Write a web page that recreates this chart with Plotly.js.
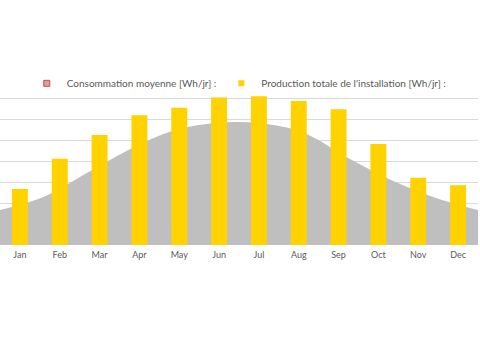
<!DOCTYPE html>
<html>
<head>
<meta charset="utf-8">
<script src="https://cdn.plot.ly/plotly-3.0.1.min.js"></script>
<style>html,body{margin:0;padding:0;background:#fff;}#chart{width:480px;height:340px;}</style>
</head>
<body>
<div id="chart"></div>
<script>
const months = ["Jan","Feb","Mar","Apr","May","Jun","Jul","Aug","Sep","Oct","Nov","Dec"];
const consommation = [1680, 2300, 3450, 4600, 5480, 5860, 5830, 5370, 4180, 3110, 2280, 1680];
const production = [2680, 4130, 5270, 6210, 6580, 7060, 7120, 6900, 6500, 4840, 3220, 2860];
const nameConso = "Consommation moyenne [Wh/jr] :";
const nameProd = "Production totale de l'installation [Wh/jr] :";

const traces = [
  {
    type: "scatter", x: months, y: consommation, xaxis: "x", yaxis: "y",
    mode: "lines", fill: "tozeroy", fillcolor: "#BFBFBF",
    line: {shape: "spline", smoothing: 1, width: 0, color: "#BFBFBF"},
    showlegend: false, hoverinfo: "skip"
  },
  {
    type: "bar", x: months, y: production, xaxis: "x2", yaxis: "y",
    name: nameProd, marker: {color: "#FFD200"}, width: 0.4, showlegend: false
  },
  {
    type: "scatter", x: [null], y: [null], xaxis: "x", yaxis: "y",
    mode: "markers", name: nameConso,
    marker: {symbol: "square", size: 6, color: "#E59A9B", line: {color: "#C0504D", width: 1}},
    legendrank: 1
  },
  {
    type: "scatter", x: [null], y: [null], xaxis: "x", yaxis: "y",
    mode: "markers", name: nameProd,
    marker: {symbol: "square", size: 6, color: "#FFD200", line: {width: 0}},
    legendrank: 2
  }
];

const layout = {
  width: 480, height: 340,
  margin: {l: 0, r: 2, t: 78, b: 95},
  paper_bgcolor: "#ffffff", plot_bgcolor: "#ffffff",
  font: {family: "Lato, 'Liberation Sans', sans-serif", color: "#595959"},
  showlegend: true,
  legend: {
    orientation: "h", x: 0.056, xanchor: "left", y: 1.055, yanchor: "top",
    font: {size: 10, color: "#595959"}, bgcolor: "rgba(0,0,0,0)",
    traceorder: "normal", itemclick: false
  },
  xaxis: {
    type: "category", categoryarray: months, range: [0, 11],
    visible: false, fixedrange: true
  },
  xaxis2: {
    type: "category", categoryarray: months, range: [-0.5, 11.5],
    overlaying: "x", anchor: "y", side: "bottom",
    showgrid: false, zeroline: false, showline: false, ticks: "",
    ticklabelstandoff: 3,
    tickfont: {size: 9, color: "#595959"}, fixedrange: true
  },
  yaxis: {
    range: [0, 8000], dtick: 1000, tick0: 0,
    showgrid: true, gridcolor: "#D9D9D9", gridwidth: 1,
    zeroline: false, showticklabels: false, ticks: "", fixedrange: true
  },
  bargap: 0.6
};

Plotly.newPlot("chart", traces, layout, {staticPlot: true, displayModeBar: false});
</script>
</body>
</html>
